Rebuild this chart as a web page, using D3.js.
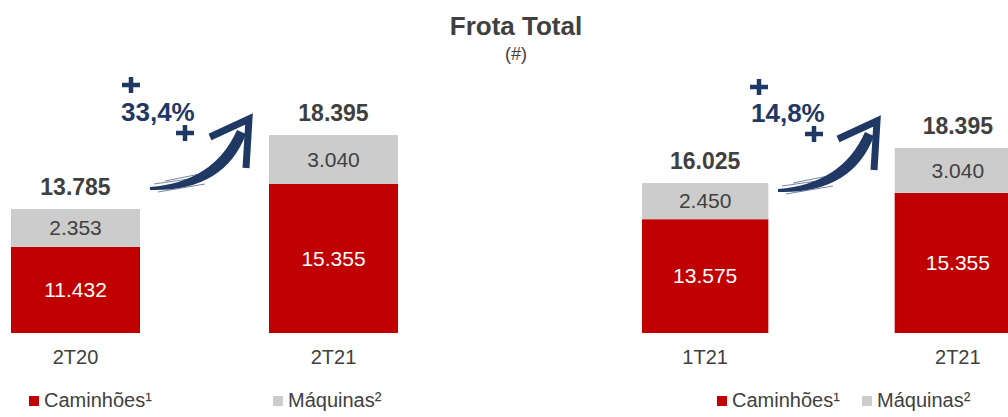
<!DOCTYPE html>
<html>
<head>
<meta charset="utf-8">
<script src="https://cdn.jsdelivr.net/npm/d3@7"></script>
<style>
  body { margin: 0; background: #fff; }
  text { font-family: "Liberation Sans", Arial, sans-serif; }
</style>
</head>
<body>
<div id="chart"></div>
<script>
// data
var seriesNames     = ["Caminhões¹", "Máquinas²"];
var leftCategories  = ["2T20", "2T21"];
var leftCaminhoes   = [11432, 15355];
var leftMaquinas    = [2353, 3040];
var rightCategories = ["1T21", "2T21"];
var rightCaminhoes  = [13575, 15355];
var rightMaquinas   = [2450, 3040];
var growthLabels    = ["33,4%", "14,8%"];

var RED = "#C00000", GREY = "#CCCCCC", INK = "#404040", NAVY = "#1F3864";

var ptBR = d3.formatLocale({decimal: ",", thousands: ".", grouping: [3], currency: ["R$", ""]});
var fmt = ptBR.format(",d");

var svg = d3.select("#chart").append("svg")
    .attr("width", 1008).attr("height", 417);

// title
svg.append("text").attr("x", 516).attr("y", 35).attr("text-anchor", "middle")
    .attr("font-size", 26).attr("font-weight", "bold").attr("fill", INK).text("Frota Total");
svg.append("text").attr("x", 516).attr("y", 60).attr("text-anchor", "middle")
    .attr("font-size", 18).attr("fill", INK).text("(#)");

function drawPanel(cats, cam, maq, xRange, yMin) {
    var totals = cam.map(function(v, i) { return v + maq[i]; });
    var x = d3.scaleBand().domain(cats).range(xRange).paddingInner(0.5).paddingOuter(0);
    var y = d3.scaleLinear().domain(yMin).range([333, yMin[2]]);
    var g = svg.append("g");

    var bars = g.selectAll("g.bar").data(cats).enter().append("g").attr("class", "bar");

    bars.append("rect")
        .attr("x", function(d) { return x(d); })
        .attr("width", x.bandwidth())
        .attr("y", function(d, i) { return y(cam[i]); })
        .attr("height", function(d, i) { return y(y.domain()[0]) - y(cam[i]); })
        .attr("fill", RED);

    bars.append("rect")
        .attr("x", function(d) { return x(d); })
        .attr("width", x.bandwidth())
        .attr("y", function(d, i) { return y(totals[i]); })
        .attr("height", function(d, i) { return y(cam[i]) - y(totals[i]); })
        .attr("fill", GREY);

    bars.append("text")
        .attr("x", function(d) { return x(d) + x.bandwidth() / 2; })
        .attr("y", function(d, i) { return (y(cam[i]) + y(y.domain()[0])) / 2; })
        .attr("dy", "0.35em").attr("text-anchor", "middle")
        .attr("font-size", 21).attr("fill", "#fff")
        .text(function(d, i) { return fmt(cam[i]); });

    bars.append("text")
        .attr("x", function(d) { return x(d) + x.bandwidth() / 2; })
        .attr("y", function(d, i) { return (y(cam[i]) + y(totals[i])) / 2; })
        .attr("dy", "0.35em").attr("text-anchor", "middle")
        .attr("font-size", 21).attr("fill", INK)
        .text(function(d, i) { return fmt(maq[i]); });

    bars.append("text")
        .attr("x", function(d) { return x(d) + x.bandwidth() / 2; })
        .attr("y", function(d, i) { return y(totals[i]) - 14; })
        .attr("text-anchor", "middle")
        .attr("font-size", 23).attr("font-weight", "bold").attr("fill", INK)
        .text(function(d, i) { return fmt(totals[i]); });

    bars.append("text")
        .attr("x", function(d) { return x(d) + x.bandwidth() / 2; })
        .attr("y", 364)
        .attr("text-anchor", "middle")
        .attr("font-size", 20).attr("fill", INK)
        .text(function(d) { return d; });
}

// y domain does not start at zero in the original slide
function yDom(lo, hi, top) { var a = [lo, hi]; a[2] = top; return a; }
drawPanel(leftCategories, leftCaminhoes, leftMaquinas, [11, 398], yDom(6060, 18395, 135));
drawPanel(rightCategories, rightCaminhoes, rightMaquinas, [642, 1021], yDom(5870, 18395, 148));

// brush-style growth arrow, drawn relative to its tip
function growth(tipX, tipY, label, labelX, labelY, plus1, plus2) {
    var g = svg.append("g").attr("transform", "translate(" + tipX + "," + tipY + ")");
    g.append("path")
        .attr("d", "M-100,69 Q-36,64 -13,12 L-4,16 Q-26,74 -100,72 Z")
        .attr("fill", NAVY);
    [[-96, 66, -40, 58], [-92, 74, -45, 66], [-85, 63, -50, 56]].forEach(function(s) {
        g.append("line").attr("x1", s[0]).attr("y1", s[1]).attr("x2", s[2]).attr("y2", s[3])
            .attr("stroke", NAVY).attr("stroke-width", 1).attr("opacity", 0.6);
    });
    g.append("path")
        .attr("d", "M-40,19 L-1,1 L-4,50")
        .attr("fill", "none").attr("stroke", NAVY)
        .attr("stroke-width", 7).attr("stroke-linejoin", "miter");

    svg.append("text").attr("x", labelX).attr("y", labelY)
        .attr("font-size", 26).attr("font-weight", "bold").attr("fill", NAVY).text(label);

    [plus1, plus2].forEach(function(p) {
        svg.append("path")
            .attr("d", "M" + (p[0] - 9) + "," + p[1] + "h18M" + p[0] + "," + (p[1] - 8) + "v16")
            .attr("stroke", NAVY).attr("stroke-width", 4.5).attr("fill", "none");
    });
}

growth(250, 118, growthLabels[0], 121, 121, [131, 85], [185, 133]);
growth(878, 120, growthLabels[1], 751, 122, [759, 87], [814, 134]);

// legends
function legend(items) {
    items.forEach(function(it, i) {
        svg.append("rect").attr("x", it[0]).attr("y", 396).attr("width", 10).attr("height", 10)
            .attr("fill", i === 0 ? RED : GREY);
        svg.append("text").attr("x", it[0] + 15).attr("y", 407)
            .attr("font-size", 20).attr("fill", INK).text(seriesNames[i]);
    });
}
legend([[29], [273]]);
legend([[717], [862]]);
</script>
</body>
</html>
